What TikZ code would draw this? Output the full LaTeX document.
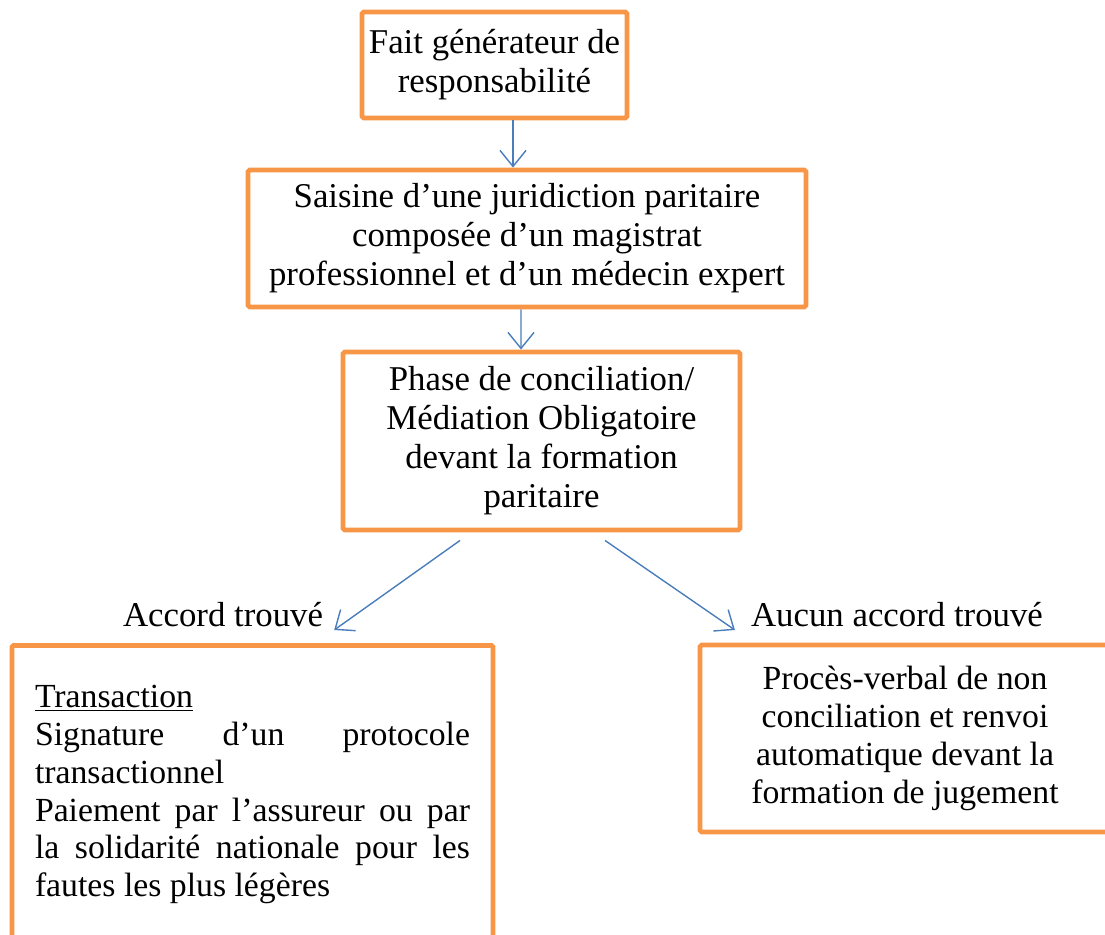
\documentclass[tikz,border=0pt]{standalone}
\usepackage{fontspec}
\setmainfont{Liberation Serif}
\usetikzlibrary{arrows.meta,calc,positioning}
\definecolor{boxorange}{HTML}{F79646}
\definecolor{arrowblue}{HTML}{4A7EBB}
\tikzstyle{stepbox} = [rectangle, rounded corners=1pt, draw=boxorange, line width=2.8pt, align=center, font=\fontsize{19.8}{22.2}\selectfont]
\tikzstyle{outcome} = [rectangle, rounded corners=1pt, draw=boxorange, line width=2.8pt, font=\fontsize{19.2}{21.5}\selectfont]
\tikzstyle{choice} = [font=\fontsize{19.8}{22}\selectfont]
\tikzstyle{arrow} = [draw=arrowblue, line width=0.8pt, -{Straight Barb[length=3.2mm,width=5.2mm]}]

\begin{document}
\begin{tikzpicture}
\clip (0,0) rectangle (22.1,-18.7);

\node (fait) [stepbox, minimum width=5.3cm, minimum height=2.12cm] at (9.89,-1.3) {Fait générateur de\\responsabilité};
\node (saisine) [stepbox, minimum width=11.16cm, minimum height=2.74cm] at (10.54,-4.77) {Saisine d’une juridiction paritaire\\composée d’un magistrat\\professionnel et d’un médecin expert};
\node (conciliation) [stepbox, minimum width=7.94cm, minimum height=3.56cm] at (10.83,-8.82) {Phase de conciliation/\\Médiation Obligatoire\\devant la formation\\paritaire};
%
\node (accord) [choice] at (4.46,-12.3) {Accord trouvé};
\node (aucun) [choice] at (17.94,-12.3) {Aucun accord trouvé};
%
\node (transaction) [outcome, anchor=north, text width=8.7cm, align=justify, inner xsep=0.46cm, inner ysep=0.8cm] at (5.05,-12.86) {\underline{Transaction}\\Signature d’un protocole\linebreak transactionnel\\Paiement par l’assureur ou par\linebreak la solidarité nationale pour les\linebreak fautes les plus légères};
\node (pv) [outcome, align=center, minimum width=8.4cm, minimum height=3.74cm] at (18.2,-14.77) {\hspace*{-0.2cm}Procès-verbal de non\\\hspace*{-0.2cm}conciliation et renvoi\\\hspace*{-0.2cm}automatique devant la\\\hspace*{-0.2cm}formation de jugement};

\draw [arrow] ([xshift=0.37cm]fait.south) -- ([xshift=-0.28cm]saisine.north);
\draw [arrow] ([xshift=-0.12cm]saisine.south) -- ([xshift=-0.41cm]conciliation.north);
\draw [arrow] ([xshift=-1.63cm,yshift=-0.16cm]conciliation.south) -- ([xshift=0.1cm,yshift=-0.3cm]accord.east);
\draw [arrow] ([xshift=1.27cm,yshift=-0.16cm]conciliation.south) -- ([xshift=-0.2cm,yshift=-0.3cm]aucun.west);

\end{tikzpicture}
\end{document}
